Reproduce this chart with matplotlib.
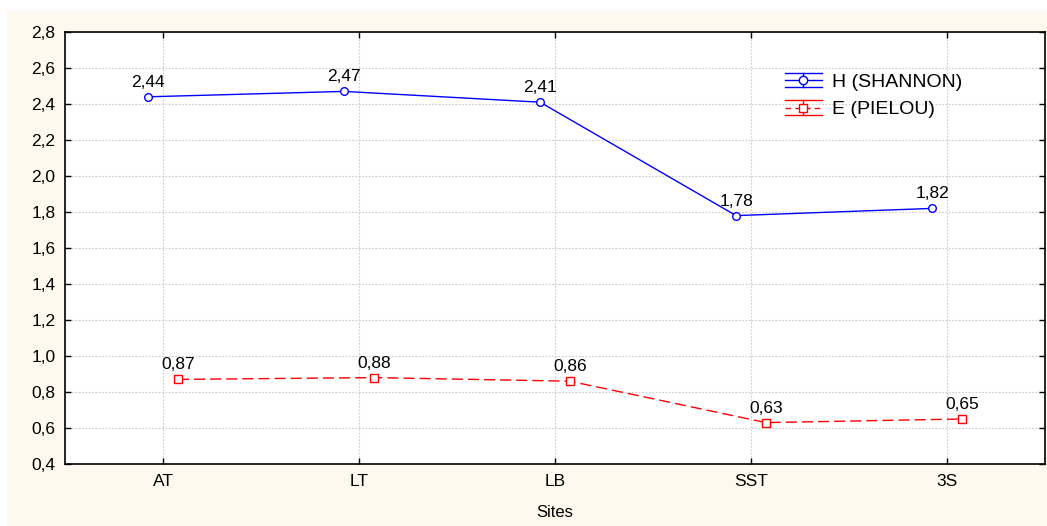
import numpy as np
import matplotlib.pyplot as plt
from matplotlib.patches import Rectangle
from matplotlib.lines import Line2D
from matplotlib.legend_handler import HandlerBase

plt.rcParams['font.family'] = ['Liberation Sans', 'DejaVu Sans']

sites = ["AT", "LT", "LB", "SST", "3S"]
shannon = [2.44, 2.47, 2.41, 1.78, 1.82]
pielou = [0.87, 0.88, 0.86, 0.63, 0.65]
yticks = [0.4, 0.6, 0.8, 1.0, 1.2, 1.4, 1.6, 1.8, 2.0, 2.2, 2.4, 2.6, 2.8]


class WhiskerHandler(HandlerBase):
    # legend key drawn like the whisker style of the original software
    def __init__(self, color, ls, marker, **kw):
        super().__init__(**kw)
        self.color, self.ls, self.marker = color, ls, marker

    def create_artists(self, legend, orig_handle, xd, yd, width, height, fontsize, trans):
        c, ls = self.color, self.ls
        x0, x1 = -xd, -xd + width
        ym = -yd + height / 2
        top, bot = ym + height * 0.45, ym - height * 0.45
        xm = (x0 + x1) / 2
        arts = [
            Line2D([x0, x1], [top, top], color=c, lw=1),
            Line2D([x0, x1], [bot, bot], color=c, lw=1),
            Line2D([xm, xm], [bot, top], color=c, lw=1),
            Line2D([x0, x1], [ym, ym], color=c, lw=1, ls=ls, dashes=(4, 3) if ls == '--' else (None, None)),
            Line2D([xm], [ym], color=c, marker=self.marker, mfc='white', mec=c, ms=6, ls='none'),
        ]
        for a in arts:
            a.set_transform(trans)
        return arts


fig = plt.figure(figsize=(10.47, 5.26), dpi=100)
fig.patch.set_facecolor('white')
fig.patches.append(Rectangle((7 / 1047, 0), 1, 1 - 11 / 526, transform=fig.transFigure,
                             facecolor='#fdf9ee', edgecolor='none', zorder=-10))

ax = fig.add_axes([65 / 1047, 62 / 526, 980 / 1047, 432 / 526])
ax.set_facecolor('white')

x = np.arange(len(sites))
off = 0.076
h_line, = ax.plot(x - off, shannon, color='#0000ff', lw=1, marker='o', ms=5.5,
                  mfc='white', mec='#0000ff', mew=1, zorder=3)
e_line, = ax.plot(x + off, pielou, color='#ff0000', lw=1, ls=(0, (8, 3.6)), marker='s', ms=6,
                  mfc='white', mec='#ff0000', mew=1, zorder=3)

for xi, v in zip(x - off, shannon):
    ax.annotate(f"{v:.2f}".replace('.', ','), (xi, v), xytext=(0, 5), textcoords='offset points',
                ha='center', va='bottom', fontsize=12.5)
for xi, v in zip(x + off, pielou):
    ax.annotate(f"{v:.2f}".replace('.', ','), (xi, v), xytext=(0, 5), textcoords='offset points',
                ha='center', va='bottom', fontsize=12.5)

ax.set_xlim(-0.5, 4.5)
ax.set_ylim(0.4, 2.8)
ax.set_xticks(x)
ax.set_xticklabels(sites)
ax.set_yticks(yticks)
ax.set_yticklabels([f"{t:.1f}".replace('.', ',') for t in yticks])
ax.tick_params(direction='in', length=4, width=1, top=True, right=True, labelsize=12.5, pad=7)
ax.grid(True, color='#cccccc', ls=(0, (1.5, 1.5)), lw=0.8)
ax.set_axisbelow(True)
for s in ax.spines.values():
    s.set_linewidth(1.2)
ax.set_xlabel("Sites", fontsize=12, labelpad=12)

ax.legend([h_line, e_line], ["H (SHANNON)", "E (PIELOU)"],
          handler_map={h_line: WhiskerHandler('#0000ff', '-', 'o'),
                       e_line: WhiskerHandler('#ff0000', '--', 's')},
          loc='upper left', bbox_to_anchor=(720 / 980, 1 - 40 / 432), frameon=False,
          fontsize=14, handlelength=1.9, handleheight=0.9, handletextpad=0.5, labelspacing=0.45,
          borderaxespad=0, borderpad=0)

fig.savefig("out.png", dpi=100)
